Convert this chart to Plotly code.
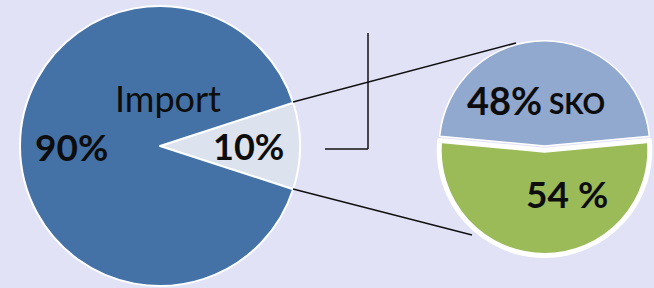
import plotly.graph_objects as go

W, H = 654, 288

# ---- data ----
main_labels = ["Other", "Import"]
main_values = [10, 90]
main_text = ["10%", "90%"]
sub_labels = ["SKO", "Other"]
sub_values = [48, 54]
sub_text = ["48%", "54 %"]

main_colors = ["#dde3ee", "#4472a7"]
sub_colors = ["#91a8cf", "#9bbb59"]


def px(x):
    return x / W


def py(y):
    return 1 - y / H


fig = go.Figure()

fig.add_trace(go.Pie(
    labels=main_labels, values=main_values, sort=False,
    direction="clockwise", rotation=72,
    marker=dict(colors=main_colors, line=dict(color="white", width=2)),
    textinfo="none", hoverinfo="none", showlegend=False,
    domain=dict(x=[px(20), px(300)], y=[py(286), py(6)]),
))

sub_pull = 0.04
fig.add_trace(go.Pie(
    labels=sub_labels, values=sub_values, sort=False,
    direction="clockwise",
    rotation=-sub_values[0] / sum(sub_values) * 180,
    pull=[0, sub_pull],
    marker=dict(colors=sub_colors, line=dict(color="white", width=[1.5, 5])),
    textinfo="none", hoverinfo="none", showlegend=False,
    domain=dict(x=[px(435), 1.0], y=[py(146 + 109.5), py(146 - 109.5)]),
))

font = "Lato, 'Noto Sans', sans-serif"
ann = [
    dict(text=main_labels[1], x=px(168), y=py(98), size=36, bold=False),
    dict(text=main_text[1], x=px(71), y=py(146), size=37, bold=True),
    dict(text=main_text[0], x=px(248), y=py(146), size=36, bold=True),
    dict(text=sub_text[0], x=px(504), y=py(100), size=38, bold=True),
    dict(text=sub_labels[0], x=px(577), y=py(103), size=28, bold=True),
    dict(text=sub_text[1], x=px(567), y=py(193), size=37, bold=True),
]
annotations = []
for a in ann:
    t = f"<b>{a['text']}</b>" if a["bold"] else a["text"]
    annotations.append(dict(
        text=t, x=a["x"], y=a["y"], xref="paper", yref="paper",
        xanchor="center", yanchor="middle", showarrow=False,
        font=dict(family=font, size=a["size"], color="#0d0d0d"),
    ))

line = dict(color="#111111", width=1.5)
shapes = [
    dict(type="line", xref="paper", yref="paper",
         x0=px(293), y0=py(102), x1=px(516), y1=py(43), line=line),
    dict(type="line", xref="paper", yref="paper",
         x0=px(293), y0=py(189), x1=px(472), y1=py(235), line=line),
    dict(type="line", xref="paper", yref="paper",
         x0=px(368), y0=py(33), x1=px(368), y1=py(149), line=line),
    dict(type="line", xref="paper", yref="paper",
         x0=px(325), y0=py(149), x1=px(368), y1=py(149), line=line),
]

fig.update_layout(
    width=W, height=H,
    margin=dict(l=0, r=0, t=0, b=0),
    paper_bgcolor="#e1e2f6", plot_bgcolor="#e1e2f6",
    annotations=annotations, shapes=shapes,
)

fig.write_html(
    "out.html",
    config={"displayModeBar": False},
    post_script="document.body.style.margin='0';document.body.style.background='#e1e2f6';",
)
